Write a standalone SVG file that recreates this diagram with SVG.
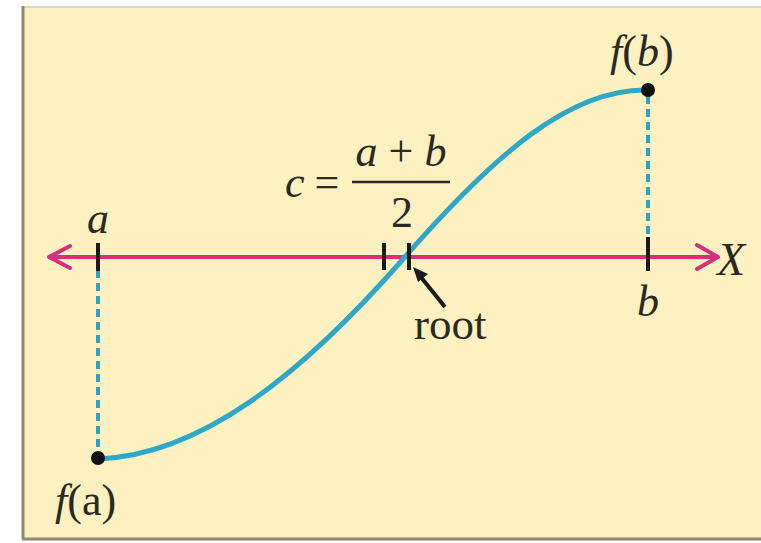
<svg xmlns="http://www.w3.org/2000/svg" width="761" height="543" viewBox="0 0 761 543">
<style>
.i{font-style:italic}
.tick{stroke:#1a1a1a;stroke-width:4;fill:none}
.dash{stroke:#2ea4c4;stroke-width:4;stroke-dasharray:8 5;fill:none}
.axis{stroke:#d4307c;stroke-width:4;fill:none;stroke-linecap:round;stroke-linejoin:round}
</style>
<rect x="0" y="0" width="761" height="543" fill="#ffffff"/>
<rect x="23" y="7" width="740" height="531" fill="#fdf1c1"/>
<line x1="23" y1="7" x2="761" y2="7" stroke="#d8d6c8" stroke-width="2"/>
<line x1="23" y1="6" x2="23" y2="539" stroke="#8c8a76" stroke-width="3"/>
<line x1="22" y1="539" x2="761" y2="539" stroke="#8c8a76" stroke-width="3"/>

<g id="connectors">
  <line class="dash" x1="98" y1="270" x2="98" y2="452"/>
  <line class="dash" x1="648" y1="96" x2="648" y2="238"/>
  <path id="axis" class="axis" d="M49,257 H718 M70,246 L49,257 L70,268 M697,245 L718,257 L697,269"/>
  <path id="curve" d="M98,459 C200,455 300,377 404,258 C494,155 570,88 648,90" fill="none" stroke="#2fa8c8" stroke-width="5"/>
  <line class="tick" x1="98" y1="243" x2="98" y2="271"/>
  <line class="tick" x1="648" y1="237" x2="648" y2="271"/>
  <line class="tick" x1="384" y1="243" x2="384" y2="270"/>
  <line class="tick" x1="409" y1="243" x2="409" y2="270"/>
  <path d="M445,307 L420,276" stroke="#1a1a1a" stroke-width="4" fill="none"/>
  <path d="M413,267 L428,274 L418,282 Z" fill="#1a1a1a"/>
</g>

<g font-family="Liberation Serif, DejaVu Serif, serif" fill="#2a2a22">
<g id="fa">
  <circle cx="98" cy="458" r="7" fill="#111"/>
  <text x="55" y="515" font-size="44"><tspan class="i">f</tspan>(a)</text>
</g>
<g id="fb">
  <circle cx="648" cy="90" r="7" fill="#111"/>
  <text x="610" y="66" font-size="44"><tspan class="i">f</tspan>(<tspan class="i">b</tspan>)</text>
</g>
<g id="label-a"><text class="i" x="98" y="233" font-size="44" text-anchor="middle">a</text></g>
<g id="label-b"><text class="i" x="648" y="316" font-size="44" text-anchor="middle">b</text></g>
<g id="label-x"><text class="i" x="717" y="275" font-size="46">X</text></g>
<g id="label-root"><text x="414" y="339" font-size="45">root</text></g>
<g id="label-c">
  <text x="285" y="197" font-size="44"><tspan class="i">c</tspan></text>
  <text x="327" y="197" font-size="44" text-anchor="middle">=</text>
  <text x="401" y="166" font-size="44" text-anchor="middle"><tspan class="i">a</tspan> + <tspan class="i">b</tspan></text>
  <line x1="352" y1="182" x2="450" y2="182" stroke="#2a2a22" stroke-width="2.5"/>
  <text x="402" y="227" font-size="44" text-anchor="middle">2</text>
</g>
</g>
</svg>
